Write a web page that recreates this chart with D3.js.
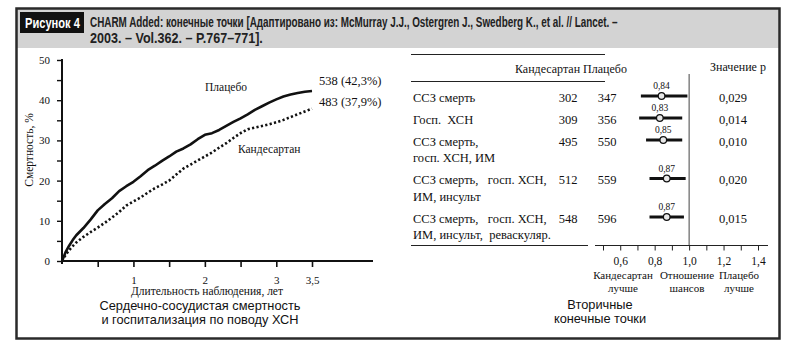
<!DOCTYPE html>
<html>
<head>
<meta charset="utf-8">
<script src="https://cdn.jsdelivr.net/npm/d3@7"></script>
<style>
  html, body { margin: 0; padding: 0; background: #fff; }
  svg { display: block; }
  .serif { font-family: "Liberation Serif", "DejaVu Serif", serif; fill: #111; }
  .sans { font-family: "Liberation Sans", Arial, sans-serif; fill: #111; }
  .pre { white-space: pre; }
</style>
</head>
<body>
<svg id="chart" width="787" height="350"></svg>
<script>
// ---- Kaplan–Meier curves: CV death or HF hospitalisation ----
const years       = [0, 0.05, 0.1, 0.15, 0.2, 0.3, 0.4, 0.5, 0.6, 0.7, 0.8, 0.9, 1.0, 1.1, 1.2, 1.3, 1.4, 1.5, 1.6, 1.7, 1.8, 1.9, 2.0, 2.1, 2.2, 2.3, 2.4, 2.5, 2.6, 2.7, 2.8, 2.9, 3.0, 3.1, 3.2, 3.3, 3.4, 3.5];
const placebo     = [0, 2.2, 3.8, 5.2, 6.4, 8.2, 10.3, 12.6, 14.2, 15.6, 17.4, 18.6, 19.7, 21.1, 22.6, 23.7, 24.9, 26.0, 27.2, 28.0, 29.0, 30.3, 31.4, 31.8, 32.6, 33.6, 34.6, 35.5, 36.5, 37.6, 38.5, 39.4, 40.2, 40.9, 41.4, 41.8, 42.1, 42.3];
const candesartan = [0, 1.5, 2.7, 3.7, 4.6, 6.0, 7.2, 8.3, 9.5, 10.8, 12.2, 13.8, 14.8, 15.8, 17.0, 18.1, 19.0, 20.0, 21.5, 23.0, 24.0, 25.0, 26.0, 27.0, 28.2, 29.3, 30.6, 31.8, 32.8, 33.2, 33.6, 34.0, 34.5, 35.1, 35.8, 36.5, 37.2, 37.9];
const endEvents   = [538, 483];          // placebo, candesartan
const endPercents = [42.3, 37.9];
const xTicks      = [0.5, 1, 1.5, 2, 2.5, 3, 3.5];
const xTickLabels = ["", "1", "", "2", "", "3", "3,5"];
const yTicks      = [0, 5, 10, 15, 20, 25, 30, 35, 40, 45, 50];

// ---- Secondary end points (forest plot) ----
const outcomes = [
  ["ССЗ смерть"],
  ["Госп.  ХСН"],
  ["ССЗ смерть,", "госп. ХСН, ИМ"],
  ["ССЗ смерть,   госп. ХСН,", "ИМ, инсульт"],
  ["ССЗ смерть,   госп. ХСН,", "ИМ, инсульт,  реваскуляр."]
];
const candEvents    = [302, 309, 495, 512, 548];
const placeboEvents = [347, 356, 550, 559, 596];
const oddsRatio     = [0.84, 0.83, 0.85, 0.87, 0.87];
const ciLow         = [0.72, 0.71, 0.75, 0.77, 0.77];
const ciHigh        = [0.99, 0.96, 0.96, 0.98, 0.97];
const pValues       = ["0,029", "0,014", "0,010", "0,020", "0,015"];
const orTicks       = [0.5, 0.6, 0.7, 0.8, 0.9, 1.0, 1.1, 1.2, 1.3, 1.4];
const orTickLabels  = ["", "0,6", "", "0,8", "", "1,0", "", "1,2", "", "1,4"];

const comma = v => String(v).replace(".", ",");
const svg = d3.select("#chart");

// squeeze a text horizontally so it spans the given width
function fitText(sel, x0, y0, width) {
  const len = sel.node().getComputedTextLength();
  sel.attr("transform", `translate(${x0},${y0}) scale(${width / len},1)`);
  return sel;
}

// ---- frame and header ----
svg.append("rect").attr("x", 17).attr("y", 9).attr("width", 762).attr("height", 39).attr("fill", "#d3d3d3");
svg.append("rect").attr("x", 16.5).attr("y", 8.5).attr("width", 763).attr("height", 330)
  .attr("fill", "none").attr("stroke", "#2a2a2a").attr("stroke-width", 2.5);
svg.append("rect").attr("x", 20).attr("y", 12).attr("width", 64).attr("height", 21).attr("fill", "#111");
fitText(svg.append("text").attr("class", "sans")
  .attr("font-size", 14).attr("font-weight", "bold").style("fill", "#fff").text("Рисунок 4"), 25, 27.5, 55);
fitText(svg.append("text").attr("class", "sans")
  .attr("font-size", 14).attr("font-weight", "bold").style("fill", "#222")
  .text("CHARM Added: конечные точки [Адаптировано из: McMurray J.J., Ostergren J., Swedberg K., et al. // Lancet. –"), 90, 27, 528);
fitText(svg.append("text").attr("class", "sans")
  .attr("font-size", 14).attr("font-weight", "bold").style("fill", "#222")
  .text("2003. – Vol.362. – P.767–771]."), 90, 43, 173);

// ---- left panel: cumulative event curves ----
const x = d3.scaleLinear().domain([0, 3.5]).range([62, 312]);
const y = d3.scaleLinear().domain([0, 50]).range([261, 60]);

const km = svg.append("g");
const xAxis = d3.axisBottom(x).tickValues(xTicks).tickSize(6).tickFormat((d, i) => xTickLabels[i]);
const gx = km.append("g").attr("transform", `translate(0,${y(0)})`).call(xAxis);
gx.select(".domain").remove();
km.append("line").attr("x1", x(0)).attr("x2", 373).attr("y1", y(0)).attr("y2", y(0))
  .attr("stroke", "#111").attr("stroke-width", 2);
gx.selectAll(".tick line").attr("stroke", "#111").attr("stroke-width", 1.6);
gx.selectAll(".tick text").attr("class", "serif").attr("font-size", 11).attr("dy", "1.3em");

const yAxis = d3.axisLeft(y).tickValues(yTicks).tickSize(5).tickPadding(7)
  .tickFormat(d => d % 10 === 0 ? d : "");
const gy = km.append("g").attr("transform", `translate(${x(0)},0)`).call(yAxis);
gy.select(".domain").attr("stroke", "#111").attr("stroke-width", 2).attr("d", `M0,${y(0) + 3}V${y(50) - 1}`);
gy.selectAll(".tick line").attr("stroke", "#111").attr("stroke-width", 1.4);
gy.selectAll(".tick text").attr("class", "serif").attr("font-size", 11);

const line = d3.line().x(d => x(d[0])).y(d => y(d[1]));
km.append("path").datum(years.map((t, i) => [t, candesartan[i]]))
  .attr("d", line).attr("fill", "none").attr("stroke", "#111")
  .attr("stroke-width", 2.6).attr("stroke-dasharray", "2.2,2.3");
km.append("path").datum(years.map((t, i) => [t, placebo[i]]))
  .attr("d", line).attr("fill", "none").attr("stroke", "#111")
  .attr("stroke-width", 2.6).attr("stroke-linejoin", "round");

const lastT = years[years.length - 1];
km.append("text").attr("class", "serif").attr("font-size", 12.5)
  .attr("x", x(lastT) + 7).attr("y", y(placebo[placebo.length - 1]) - 6)
  .text(`${endEvents[0]} (${comma(endPercents[0])}%)`);
km.append("text").attr("class", "serif").attr("font-size", 12.5)
  .attr("x", x(lastT) + 7).attr("y", y(candesartan[candesartan.length - 1]) - 3)
  .text(`${endEvents[1]} (${comma(endPercents[1])}%)`);
km.append("text").attr("class", "serif").attr("font-size", 11.5).attr("x", 205).attr("y", 91).text("Плацебо");
km.append("text").attr("class", "serif").attr("font-size", 11.5).attr("x", 238).attr("y", 153).text("Кандесартан");

km.append("text").attr("class", "serif").attr("font-size", 11.5)
  .attr("transform", "translate(33,150) rotate(-90)").attr("text-anchor", "middle").text("Смертность, %");
km.append("text").attr("class", "serif").attr("font-size", 11.5)
  .attr("x", 207).attr("y", 295).attr("text-anchor", "middle").text("Длительность наблюдения, лет");
km.append("text").attr("class", "sans").attr("font-size", 12.8)
  .attr("x", 200).attr("y", 310).attr("text-anchor", "middle").text("Сердечно-сосудистая смертность");
km.append("text").attr("class", "sans").attr("font-size", 12.8)
  .attr("x", 200).attr("y", 324).attr("text-anchor", "middle").text("и госпитализация по поводу ХСН");

// ---- right panel: forest plot ----
const fx = d3.scaleLinear().domain([0.5, 1.4]).range([603, 758]);
const fp = svg.append("g");

// row centres: one line step between rows plus extra for wrapped labels
let extra = 0;
const rowY = outcomes.map((lines, i) => {
  const v = 97 + 22 * i + 16.5 * extra;
  extra += lines.length - 1;
  return v;
});

fp.append("line").attr("x1", 411).attr("x2", 605).attr("y1", 54.5).attr("y2", 54.5).attr("stroke", "#222").attr("stroke-width", 1.2);
fp.append("line").attr("x1", 411).attr("x2", 605).attr("y1", 81.5).attr("y2", 81.5).attr("stroke", "#222").attr("stroke-width", 1.2);
fp.append("text").attr("class", "serif").attr("font-size", 12).attr("x", 515).attr("y", 73).text("Кандесартан Плацебо");
fp.append("text").attr("class", "serif").attr("font-size", 12).attr("x", 738).attr("y", 71)
  .attr("text-anchor", "middle").text("Значение р");

// reference line at OR = 1
fp.append("line").attr("x1", fx(1)).attr("x2", fx(1)).attr("y1", 74).attr("y2", 245)
  .attr("stroke", "#444").attr("stroke-width", 1);

const rows = fp.selectAll("g.row").data(outcomes).join("g").attr("class", "row");
rows.each(function (lines, i) {
  const g = d3.select(this);
  const cy = rowY[i];
  lines.forEach((t, k) => {
    g.append("text").attr("class", "serif pre").attr("font-size", 12.5)
      .attr("x", 413).attr("y", cy + 4.5 + k * 16.5).text(t);
  });
  g.append("text").attr("class", "serif").attr("font-size", 12.5).attr("text-anchor", "middle")
    .attr("x", 568).attr("y", cy + 4.5).text(candEvents[i]);
  g.append("text").attr("class", "serif").attr("font-size", 12.5).attr("text-anchor", "middle")
    .attr("x", 607).attr("y", cy + 4.5).text(placeboEvents[i]);
  g.append("text").attr("class", "serif").attr("font-size", 12.5).attr("text-anchor", "middle")
    .attr("x", 733).attr("y", cy + 4.5).text(pValues[i]);
  g.append("line").attr("x1", fx(ciLow[i])).attr("x2", fx(ciHigh[i])).attr("y1", cy - 1).attr("y2", cy - 1)
    .attr("stroke", "#111").attr("stroke-width", 3.2);
  g.append("circle").attr("cx", fx(oddsRatio[i])).attr("cy", cy - 1).attr("r", 3.3)
    .attr("fill", "#e8e8e8").attr("stroke", "#111").attr("stroke-width", 1.2);
  g.append("text").attr("class", "serif").attr("font-size", 9.5).attr("text-anchor", "middle")
    .attr("x", fx(oddsRatio[i])).attr("y", cy - 8).text(comma(oddsRatio[i].toFixed(2)));
});

fp.append("line").attr("x1", 411).attr("x2", 588).attr("y1", 245.5).attr("y2", 245.5).attr("stroke", "#222").attr("stroke-width", 1.2);

const orAxis = d3.axisBottom(fx).tickValues(orTicks).tickSize(5).tickPadding(6)
  .tickFormat((d, i) => orTickLabels[i]);
const ga = fp.append("g").attr("transform", "translate(0,245.5)").call(orAxis);
ga.select(".domain").attr("d", "M595,0H768").attr("stroke", "#222").attr("stroke-width", 1.2);
ga.selectAll(".tick line").attr("stroke", "#222");
ga.selectAll(".tick text").attr("class", "serif").attr("font-size", 11.5);

const foot = [["Кандесартан", "лучше", 623], ["Отношение", "шансов", 687], ["Плацебо", "лучше", 739]];
foot.forEach(([a, b, cx]) => {
  fp.append("text").attr("class", "serif").attr("font-size", 11).attr("text-anchor", "middle")
    .attr("x", cx).attr("y", 279).text(a);
  fp.append("text").attr("class", "serif").attr("font-size", 11).attr("text-anchor", "middle")
    .attr("x", cx).attr("y", 292).text(b);
});
fp.append("text").attr("class", "sans").attr("font-size", 12.8).attr("text-anchor", "middle")
  .attr("x", 600).attr("y", 309).text("Вторичные");
fp.append("text").attr("class", "sans").attr("font-size", 12.8).attr("text-anchor", "middle")
  .attr("x", 600).attr("y", 323).text("конечные точки");
</script>
</body>
</html>
